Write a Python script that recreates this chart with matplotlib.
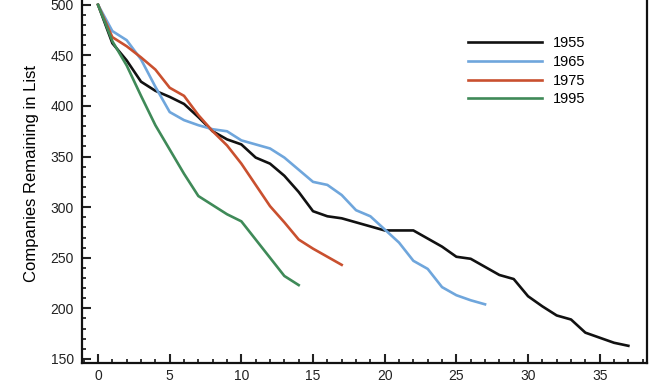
import matplotlib
matplotlib.use("Agg")
import matplotlib.pyplot as plt
from matplotlib.ticker import MultipleLocator

plt.rcParams['font.family'] = ['Liberation Sans', 'DejaVu Sans']

# companies still on the list, by years elapsed
years_1955 = list(range(0, 38))
list_1955 = [500, 462, 445, 424, 415, 409, 402, 389, 375, 367, 362, 349, 343, 331, 315, 296,
             291, 289, 285, 281, 277, 277, 277, 269, 261, 251, 249, 241, 233, 229, 212, 202,
             193, 189, 176, 171, 166, 163]
years_1965 = list(range(0, 28))
list_1965 = [500, 474, 465, 446, 419, 394, 386, 381, 377, 375, 366, 362, 358, 349, 337, 325,
             322, 312, 297, 291, 278, 265, 247, 239, 221, 213, 208, 204]
years_1975 = list(range(0, 18))
list_1975 = [500, 468, 459, 448, 436, 418, 410, 391, 375, 361, 343, 322, 301, 285, 268, 259,
             251, 243]
years_1995 = list(range(0, 15))
list_1995 = [500, 464, 440, 410, 381, 357, 333, 311, 302, 293, 286, 268, 250, 232, 223]

series = [
    ("1955", years_1955, list_1955, "#111111"),
    ("1965", years_1965, list_1965, "#6fa6dc"),
    ("1975", years_1975, list_1975, "#c9502f"),
    ("1995", years_1995, list_1995, "#3f8a58"),
]

fig = plt.figure(figsize=(6.6, 3.8), dpi=100)
ax = fig.add_axes([0.1242, 0.0447, 0.8561, 0.996])

for label, xs, ys, color in series:
    ax.plot(xs, ys, color=color, lw=1.9, label=label)

ax.set_xlim(-1.12, 38.3)
ax.set_ylim(146, 520)
ax.xaxis.set_major_locator(MultipleLocator(5))
ax.xaxis.set_minor_locator(MultipleLocator(1))
ax.yaxis.set_minor_locator(MultipleLocator(10))
ax.set_yticks(range(150, 501, 50))
ax.tick_params(which='major', direction='in', length=6.5, width=1.5, labelsize=10, colors='#222222')
ax.tick_params(which='minor', direction='in', length=3, width=1.1)
ax.tick_params(axis='x', pad=4)
ax.tick_params(axis='y', pad=6)
for side in ax.spines.values():
    side.set_linewidth(1.6)
    side.set_color('#111111')

ax.set_ylabel("Companies Remaining in List", fontsize=12, labelpad=8)

ax.legend(loc='upper left', bbox_to_anchor=(468 / 660, 1 - 36 / 380),
          bbox_transform=fig.transFigure, frameon=False, fontsize=10.5,
          handlelength=5.1, handletextpad=0.7, labelspacing=0.33, borderpad=0, borderaxespad=0)

fig.savefig("out.png", dpi=100)
